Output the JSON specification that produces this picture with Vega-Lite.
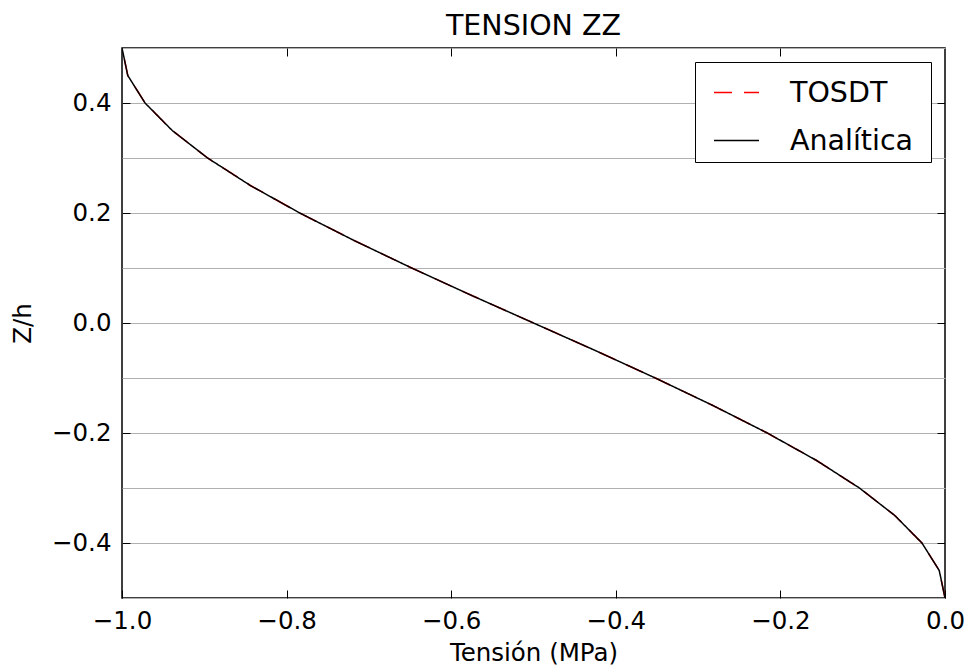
{
  "$schema": "https://vega.github.io/schema/vega-lite/v6.json",
  "width": 823,
  "height": 550,
  "autosize": "none",
  "padding": {"left": 122, "top": 48, "right": 19, "bottom": 70},
  "background": "white",
  "title": {"text": "TENSION ZZ", "font": "DejaVu Sans", "fontSize": 28.5, "fontWeight": "normal", "color": "black", "anchor": "middle", "frame": "group", "baseline": "bottom", "offset": -34},
  "data": {
    "values": [
      {"serie": "TOSDT", "z": 0.5, "tension": -1.0},
      {"serie": "TOSDT", "z": 0.45, "tension": -0.993},
      {"serie": "TOSDT", "z": 0.4, "tension": -0.972},
      {"serie": "TOSDT", "z": 0.35, "tension": -0.939},
      {"serie": "TOSDT", "z": 0.3, "tension": -0.896},
      {"serie": "TOSDT", "z": 0.25, "tension": -0.844},
      {"serie": "TOSDT", "z": 0.2, "tension": -0.784},
      {"serie": "TOSDT", "z": 0.15, "tension": -0.718},
      {"serie": "TOSDT", "z": 0.1, "tension": -0.648},
      {"serie": "TOSDT", "z": 0.05, "tension": -0.575},
      {"serie": "TOSDT", "z": 0.0, "tension": -0.5},
      {"serie": "TOSDT", "z": -0.05, "tension": -0.425},
      {"serie": "TOSDT", "z": -0.1, "tension": -0.352},
      {"serie": "TOSDT", "z": -0.15, "tension": -0.282},
      {"serie": "TOSDT", "z": -0.2, "tension": -0.216},
      {"serie": "TOSDT", "z": -0.25, "tension": -0.156},
      {"serie": "TOSDT", "z": -0.3, "tension": -0.104},
      {"serie": "TOSDT", "z": -0.35, "tension": -0.061},
      {"serie": "TOSDT", "z": -0.4, "tension": -0.028},
      {"serie": "TOSDT", "z": -0.45, "tension": -0.007},
      {"serie": "TOSDT", "z": -0.5, "tension": 0.0},
      {"serie": "Analítica", "z": 0.5, "tension": -1.0},
      {"serie": "Analítica", "z": 0.45, "tension": -0.993},
      {"serie": "Analítica", "z": 0.4, "tension": -0.972},
      {"serie": "Analítica", "z": 0.35, "tension": -0.939},
      {"serie": "Analítica", "z": 0.3, "tension": -0.896},
      {"serie": "Analítica", "z": 0.25, "tension": -0.844},
      {"serie": "Analítica", "z": 0.2, "tension": -0.784},
      {"serie": "Analítica", "z": 0.15, "tension": -0.718},
      {"serie": "Analítica", "z": 0.1, "tension": -0.648},
      {"serie": "Analítica", "z": 0.05, "tension": -0.575},
      {"serie": "Analítica", "z": 0.0, "tension": -0.5},
      {"serie": "Analítica", "z": -0.05, "tension": -0.425},
      {"serie": "Analítica", "z": -0.1, "tension": -0.352},
      {"serie": "Analítica", "z": -0.15, "tension": -0.282},
      {"serie": "Analítica", "z": -0.2, "tension": -0.216},
      {"serie": "Analítica", "z": -0.25, "tension": -0.156},
      {"serie": "Analítica", "z": -0.3, "tension": -0.104},
      {"serie": "Analítica", "z": -0.35, "tension": -0.061},
      {"serie": "Analítica", "z": -0.4, "tension": -0.028},
      {"serie": "Analítica", "z": -0.45, "tension": -0.007},
      {"serie": "Analítica", "z": -0.5, "tension": 0.0}
    ]
  },
  "layer": [
    {
      "transform": [{"filter": "datum.serie == 'TOSDT'"}],
      "mark": {"type": "line", "strokeWidth": 1.5, "clip": true},
      "encoding": {
        "x": {"field": "tension", "type": "quantitative",
          "scale": {"domain": [-1, 0], "nice": false, "zero": false},
          "axis": {"orient": "bottom", "values": [-1, -0.8, -0.6, -0.4, -0.2, 0], "grid": false, "domain": false,
            "tickSize": -8, "tickColor": "black", "tickWidth": 1,
            "labelFont": "DejaVu Sans", "labelFontSize": 24.5, "labelColor": "black", "labelPadding": 19,
            "labelFlush": false, "labelOverlap": false,
            "labelExpr": "replace(format(datum.value, '.1f'), '-', '−')",
            "title": "Tensión (MPa)", "titleFont": "DejaVu Sans", "titleFontSize": 24.5, "titleFontWeight": "normal", "titleColor": "black", "titlePadding": 9}},
        "y": {"field": "z", "type": "quantitative",
          "scale": {"domain": [-0.5, 0.5], "nice": false, "zero": false},
          "axis": {"orient": "left", "values": [-0.5, -0.4, -0.3, -0.2, -0.1, 0, 0.1, 0.2, 0.3, 0.4, 0.5],
            "grid": true, "gridColor": "#b0b0b0", "gridWidth": 1, "gridOpacity": 1, "domain": false,
            "tickSize": -8, "tickColor": "black", "tickWidth": 1,
            "tickOpacity": {"condition": {"test": "abs(round(datum.value * 10)) % 2 == 0", "value": 1}, "value": 0},
            "labelFont": "DejaVu Sans", "labelFontSize": 24.5, "labelColor": "black", "labelPadding": 19,
            "labelFlush": false, "labelOverlap": false,
            "labelExpr": "abs(round(datum.value * 10)) % 2 == 0 ? replace(format(datum.value, '.1f'), '-', '−') : ''",
            "title": "Z/h", "titleFont": "DejaVu Sans", "titleFontSize": 24.5, "titleFontWeight": "normal", "titleColor": "black", "titlePadding": 16}},
        "order": {"field": "z", "type": "quantitative"},
        "color": {"field": "serie", "type": "nominal",
          "scale": {"domain": ["TOSDT", "Analítica"], "range": ["#ff0000", "#000000"]},
          "legend": {"title": " ", "titleOrient": "right", "titleFontSize": 1, "titlePadding": 11,
            "orient": "top-right", "offset": 14, "padding": 7, "strokeColor": "black", "fillColor": "white",
            "cornerRadius": 0, "symbolType": "stroke", "symbolSize": 2025, "symbolStrokeWidth": 1.5, "symbolOffset": 11,
            "labelFont": "DejaVu Sans", "labelFontSize": 28.5, "labelColor": "black", "labelOffset": 30, "rowPadding": 10, "labelLimit": 400}},
        "strokeDash": {"field": "serie", "type": "nominal",
          "scale": {"domain": ["TOSDT", "Analítica"], "range": [[18, 12], [1, 0]]},
          "legend": {"title": " ", "titleOrient": "right", "titleFontSize": 1, "titlePadding": 11,
            "orient": "top-right", "offset": 14, "padding": 7, "strokeColor": "black", "fillColor": "white",
            "cornerRadius": 0, "symbolType": "stroke", "symbolSize": 2025, "symbolStrokeWidth": 1.5, "symbolOffset": 11,
            "labelFont": "DejaVu Sans", "labelFontSize": 28.5, "labelColor": "black", "labelOffset": 30, "rowPadding": 10, "labelLimit": 400}}
      }
    },
    {
      "transform": [{"filter": "datum.serie == 'Analítica'"}],
      "mark": {"type": "line", "strokeWidth": 1.5, "clip": true},
      "encoding": {
        "x": {"field": "tension", "type": "quantitative",
          "scale": {"domain": [-1, 0], "nice": false, "zero": false},
          "axis": {"orient": "top", "values": [-0.8, -0.6, -0.4, -0.2], "grid": false, "domain": false, "labels": false,
            "tickSize": -8, "tickColor": "black", "tickWidth": 1, "title": null, "minExtent": 0, "maxExtent": 0}},
        "y": {"field": "z", "type": "quantitative",
          "scale": {"domain": [-0.5, 0.5], "nice": false, "zero": false},
          "axis": {"orient": "right", "values": [-0.4, -0.2, 0, 0.2, 0.4], "grid": false, "domain": false, "labels": false,
            "tickSize": -8, "tickColor": "black", "tickWidth": 1, "title": null, "minExtent": 0, "maxExtent": 0}},
        "order": {"field": "z", "type": "quantitative"},
        "color": {"field": "serie", "type": "nominal",
          "scale": {"domain": ["TOSDT", "Analítica"], "range": ["#ff0000", "#000000"]}},
        "strokeDash": {"field": "serie", "type": "nominal",
          "scale": {"domain": ["TOSDT", "Analítica"], "range": [[18, 12], [1, 0]]}}
      }
    }
  ],
  "resolve": {"axis": {"x": "independent", "y": "independent"}},
  "config": {
    "view": {"stroke": "black", "strokeWidth": 1.5},
    "font": "DejaVu Sans"
  }
}
